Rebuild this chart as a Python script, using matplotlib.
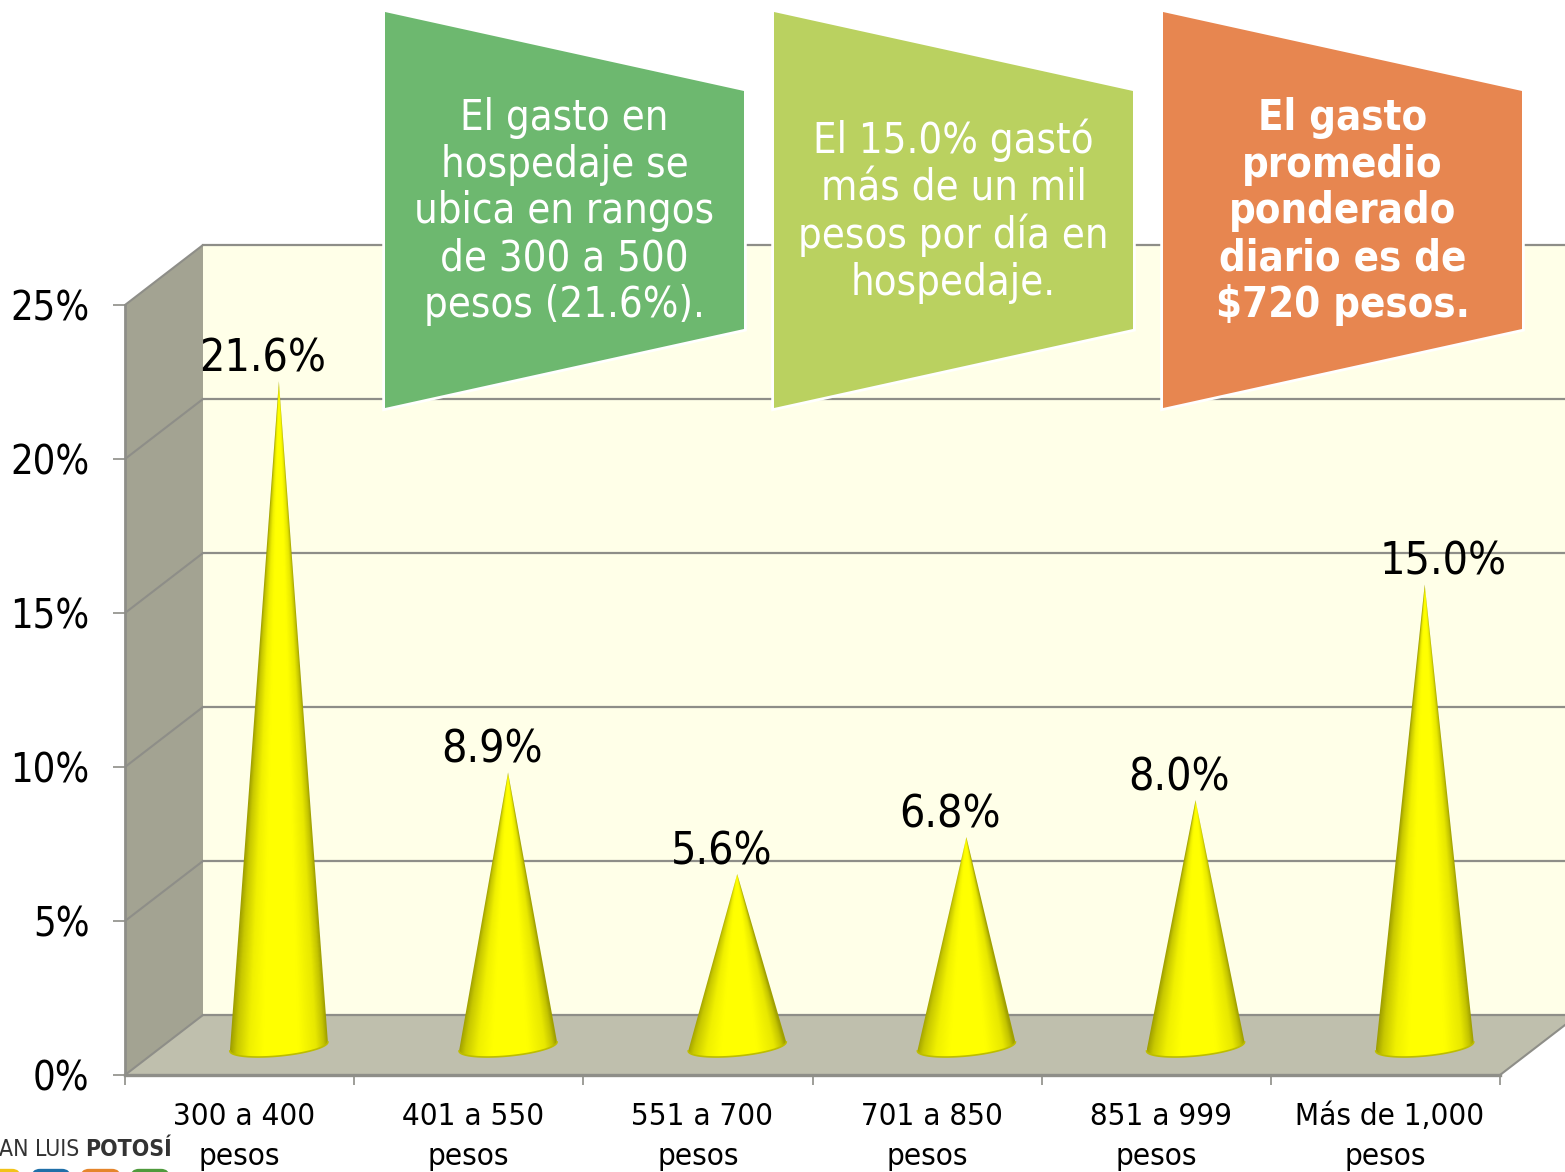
import numpy as np
import matplotlib
matplotlib.use("Agg")
import matplotlib.pyplot as plt
from matplotlib.patches import Polygon, FancyBboxPatch
from matplotlib.colors import LinearSegmentedColormap

categories = ["300 a 400", "401 a 550", "551 a 700", "701 a 850", "851 a 999", "Más de 1,000"]
values = [21.6, 8.9, 5.6, 6.8, 8.0, 15.0]
y_ticks = [0, 5, 10, 15, 20, 25]
callout_texts = [
    "El gasto en\nhospedaje se\nubica en rangos\nde 300 a 500\npesos (21.6%).",
    "El 15.0% gastó\nmás de un mil\npesos por día en\nhospedaje.",
    "El gasto\npromedio\nponderado\ndiario es de\n$720 pesos.",
]
callout_colors = ["#6DB86F", "#BAD160", "#E78650"]

W, H = 1565, 1172
FONT = dict(family="DejaVu Sans", stretch="condensed")
plt.rcParams["font.family"] = "DejaVu Sans"
fig = plt.figure(figsize=(W / 100, H / 100), dpi=100, facecolor="white")


def axes_px(x0, x1, ytop, ybot, **kw):
    return fig.add_axes([x0 / W, 1 - ybot / H, (x1 - x0) / W, (ybot - ytop) / H], **kw)


GRID = "#8E8E88"
# pixel-space background: walls and floor
bg = axes_px(0, W, 0, H, zorder=1)
bg.set_xlim(0, W); bg.set_ylim(H, 0); bg.axis("off")
bg.add_patch(Polygon([(203, 245), (1578, 245), (1578, 1015), (203, 1015)], fc="#FFFFE8", ec="none"))
bg.add_patch(Polygon([(125, 305), (203, 245), (203, 1015), (125, 1075)], fc="#A3A392", ec="none"))
bg.add_patch(Polygon([(125, 1075), (203, 1015), (1578, 1015), (1500, 1075)], fc="#BFBFAD", ec="none"))

# back wall gridlines
back = axes_px(203, 1578, 245, 1015, zorder=2)
back.set_xlim(0, 6); back.set_ylim(0, 25); back.axis("off")
for t in y_ticks:
    back.axhline(t, color=GRID, lw=1.6, clip_on=False)
for t in y_ticks:
    yp = 1075 - t * 30.8
    bg.plot([125, 203], [yp, yp - 60], color=GRID, lw=1.5, solid_capstyle="round")
bg.plot([1500, 1578], [1075, 1015], color=GRID, lw=1.5)

# front axes: ticks and labels
ax = axes_px(125, 1500, 305, 1075, zorder=3)
ax.patch.set_alpha(0)
ax.set_xlim(0, 6); ax.set_ylim(0, 25)
for s in ["top", "right"]:
    ax.spines[s].set_visible(False)
ax.spines["left"].set_color(GRID); ax.spines["left"].set_linewidth(2)
ax.spines["bottom"].set_color(GRID); ax.spines["bottom"].set_linewidth(2.4)
ax.set_yticks(y_ticks)
ax.set_yticklabels([f"{t}%" for t in y_ticks], fontsize=28.5, **FONT)
ax.tick_params(axis="y", length=8.5, width=1.2, color=GRID, pad=17)
ax.set_xticks(range(7)); ax.set_xticklabels([])
ax.tick_params(axis="x", which="major", length=7, width=1.2, color=GRID)
ax.set_xticks(np.arange(6) + 0.5, [" " + c + "\npesos" for c in categories], minor=True, fontsize=22.5, **FONT)
ax.tick_params(axis="x", which="minor", length=0, pad=19.5)
for lab in ax.get_xticklabels(minor=True):
    lab.set_linespacing(1.47)

# cones, on a category/percent axes shifted into the 3-D plot box
cones = axes_px(164.3, 1539.3, 276.5, 1077.3, zorder=4)
cones.patch.set_alpha(0)
cones.axis("off")
shade = LinearSegmentedColormap.from_list(
    "cone", [(0, "#9C9C00"), (0.07, "#C8C800"), (0.2, "#F0F000"), (0.34, "#FFFF00"), (0.7, "#FFFF00"),
             (0.88, "#E8E800"), (0.96, "#C4C400"), (1, "#A0A000")])
half_w = 49 / (1375 / 6)
px_y = 25 / 770
t = np.linspace(np.pi, 0, 60)
for i, v in enumerate(values):
    cx = i + 0.5
    ex = cx + half_w * np.cos(t)
    ey = px_y * (4.5 * np.cos(t) - 9.5 * np.sin(t))
    poly = Polygon(np.r_[[[cx, v]], np.c_[ex, ey]], closed=True, transform=cones.transData, fc="none", ec="none")
    cones.add_patch(poly)
    xs = np.linspace(cx - half_w, cx + half_w, 300)
    ys = np.linspace(-1, v, 500)
    X, Y = np.meshgrid(xs, ys)
    rel = np.clip((v - Y) / v, 1e-3, None)
    U = np.clip(((X - cx) / (half_w * rel) + 1) / 2, 0, 1)
    im = cones.imshow(U, cmap=shade, vmin=0, vmax=1, origin="lower", extent=[cx - half_w, cx + half_w, -1, v],
                      aspect="auto", interpolation="bilinear", zorder=2)
    im.set_clip_path(poly)
    cones.plot(ex, ey, color="#BDBD00", lw=1.2, zorder=3)
    dx = 18 if i == len(values) - 1 else -16
    cones.annotate(f"{v:.1f}%", (cx, v), xytext=(dx * 0.72, 16), textcoords="offset points",
                   ha="center", va="center", fontsize=32, color="black", annotation_clip=False, **FONT)
cones.set_xlim(0, 6); cones.set_ylim(-1, 25)

# overlay: callouts and logo
top = axes_px(0, W, 0, H, zorder=5)
top.patch.set_alpha(0)
top.set_xlim(0, W); top.set_ylim(H, 0); top.axis("off")
for k, (txt, col) in enumerate(zip(callout_texts, callout_colors)):
    x0 = 385 + 389 * k
    x1 = x0 + 359
    pts = [(x0, 12), (x1, 91), (x1, 329), (x0, 408)]
    top.add_patch(Polygon(pts, fc="white", ec="white", lw=4, joinstyle="miter"))
    top.add_patch(Polygon(pts, fc=col, ec="none"))
    top.text((x0 + x1) / 2, 211.5, txt, ha="center", va="center", color="white",
             fontsize=30, linespacing=1.14, fontweight="bold" if k == 2 else "normal", **FONT)

top.text(-1, 1150, "AN LUIS", ha="left", va="center", fontsize=16.5, color="#333333", **FONT)
top.text(85, 1150, "POTOSÍ", ha="left", va="center", fontsize=16.5, fontweight="bold", color="#333333", **FONT)
for xa, xb, c in [(-20, 22, "#F2C318"), (30, 72, "#1F6FA8"), (79, 122, "#E5852B"), (129, 171, "#4F9A3C")]:
    top.add_patch(FancyBboxPatch((xa + 5, 1173), xb - xa - 10, 10, boxstyle="round,pad=0,rounding_size=5",
                                 mutation_aspect=1, fc=c, ec=c, lw=6, clip_on=True))

fig.savefig("out.png", dpi=100, facecolor="white")
